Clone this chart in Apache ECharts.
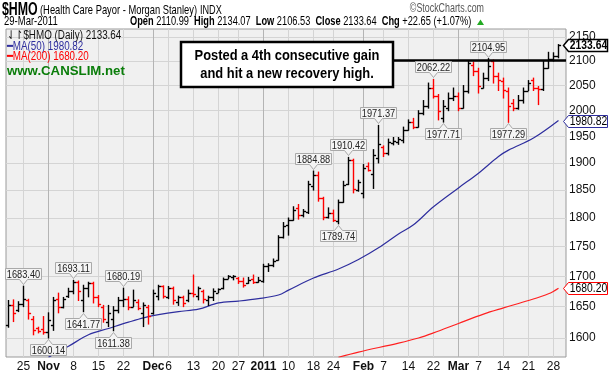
<!DOCTYPE html>
<html>
<head>
<meta charset="utf-8">
<script src="https://cdn.jsdelivr.net/npm/echarts@6/dist/echarts.min.js"></script>
<style>
  html, body { margin: 0; padding: 0; background: #fff; }
  #chart { width: 611px; height: 377px; }
</style>
</head>
<body>
<div id="chart"></div>
<script>
// trading days 20-Oct-2010 .. 29-Mar-2011
const dates = [
  '10/20','10/21','10/22','10/25','10/26','10/27','10/28','10/29',
  '11/1','11/2','11/3','11/4','11/5','11/8','11/9','11/10','11/11','11/12','11/15','11/16','11/17','11/18','11/19','11/22','11/23','11/24','11/26','11/29','11/30',
  '12/1','12/2','12/3','12/6','12/7','12/8','12/9','12/10','12/13','12/14','12/15','12/16','12/17','12/20','12/21','12/22','12/23','12/27','12/28','12/29','12/30','12/31',
  '1/3','1/4','1/5','1/6','1/7','1/10','1/11','1/12','1/13','1/14','1/18','1/19','1/20','1/21','1/24','1/25','1/26','1/27','1/28','1/31',
  '2/1','2/2','2/3','2/4','2/7','2/8','2/9','2/10','2/11','2/14','2/15','2/16','2/17','2/18','2/22','2/23','2/24','2/25','2/28',
  '3/1','3/2','3/3','3/4','3/7','3/8','3/9','3/10','3/11','3/14','3/15','3/16','3/17','3/18','3/21','3/22','3/23','3/24','3/25','3/28','3/29'
];
const opens = [
  1620,1652,1645,1655,1660,1630,1615,1614,
  1610,1620,1663,1650,1667,1675,1690,1660,1680,1688,1665,1650,1625,1630,1645,1660,1662,1650,1658,1640,1650,
  1640,1668,1683,1666,1680,1657,1665,1660,1672,1668,1675,1660,1665,1673,1680,1696,1698,1697,1692,1688,1696,1690,
  1692,1717,1718,1728,1766,1787,1797,1818,1805,1810,1858,1878,1836,1802,1808,1795,1828,1862,1905,1850,
  1845,1895,1880,1910,1930,1918,1938,1940,1943,1962,1977,1968,1995,2010,2045,2030,1985,2005,2025,
  2030,2005,2040,2092,2080,2045,2065,2100,2070,2060,2040,2015,2005,2022,2040,2062,2045,2043,2085,2105,2110.99
];
const highs = [
  1660,1661,1658,1683.40,1662,1634,1617,1634,
  1640,1665,1672,1665,1680,1693.11,1692,1685,1690,1690,1668,1652,1652,1650,1665,1680.19,1666,1677,1661,1656,1652,
  1677,1685,1684,1683,1682,1667,1667,1677,1702,1682,1677,1667,1679,1679,1697,1701,1701,1698,1697,1698,1702,1698,
  1720,1721,1729,1769,1792,1800,1820,1824,1815,1866,1884.88,1883,1837,1818,1814,1832,1866,1910.42,1907,1868,
  1897,1900,1925,1971.37,1932,1945,1948,1948,1968,1982,1985,2000,2020,2055,2062.22,2032,2020,2035,2045,
  2035,2050,2100,2098,2085,2075,2104.95,2102,2075,2065,2045,2022,2030,2045,2060,2065,2048,2100,2118,2117,2134.07
];
const lows = [
  1617,1626,1642,1650,1630,1605,1608,1606,
  1600.14,1612,1640,1648,1665,1671,1660,1641.77,1666,1656,1650,1625,1618,1611.38,1640,1650,1645,1650,1645,1618,1622,
  1638,1661,1664,1663,1654,1652,1650,1658,1666,1661,1656,1652,1660,1673,1679,1696,1694,1688,1682,1688,1688,1690,
  1690,1708,1716,1727,1765,1770,1796,1798,1802,1808,1850,1830,1797,1800,1794,1789.74,1828,1860,1845,1848,
  1836,1885,1853,1900,1912,1915,1934,1935,1938,1962,1965,1968,1992,2005,2025,1982,1977.71,2000,2020,
  2000,2005,2035,2070,2035,2045,2060,2055,2040,2025,1977.29,2000,2003,2015,2040,2040,2012,2040,2085,2100,2106.53
];
const closes = [
  1652,1640,1655,1662,1640,1612,1611,1609,
  1628,1660,1650,1662,1676,1690,1675,1680,1688,1665,1655,1630,1640,1645,1660,1663,1650,1660,1648,1652,1635,
  1672,1683,1668,1680,1660,1665,1656,1672,1670,1680,1663,1665,1676,1678,1695,1700,1700.5,1692,1686,1694,1690,1694,
  1717,1719,1726,1766,1786,1797,1815,1805,1812,1862,1877,1836,1802,1808,1797,1828,1860,1905,1852,1864,
  1890,1887,1915,1935,1918,1940,1942,1945,1962,1977,1968,1995,2010,2045,2030,2000,2010,2025,2030,
  2005,2040,2095,2080,2050,2065,2090,2070,2062,2042,2010,2005,2022,2040,2055,2045,2043,2085,2105,2110.99,2133.64
];

// moving averages
const ma50Dates = ['11/1','11/5','11/11','11/17','11/23','11/29','12/2','12/8','12/14','12/20','12/27','12/31','1/6','1/10','1/18','1/25','1/31','2/4','2/10','2/15','2/22','3/1','3/7','3/11','3/15','3/22','3/29'];
const ma50Values = [1570,1587,1605,1615,1625,1632,1637,1642,1646,1656,1659,1663,1669,1677,1697,1712,1728,1748,1772,1788,1820,1854,1881,1912,1924,1947,1980.82];
const ma200Dates = ['1/25','1/31','2/10','2/16','2/22','3/1','3/8','3/14','3/21','3/25','3/29'];
const ma200Values = [1570,1578,1592,1600,1608,1623,1638,1648,1660,1671,1680.20];

// axis ticks
const tickDates = ['10/25','11/1','11/8','11/15','11/22','12/1','12/6','12/13','12/20','12/27','1/3','1/10','1/18','1/24','2/1','2/7','2/14','2/22','3/1','3/7','3/14','3/21','3/28'];
const tickLabels = ['25','Nov','8','15','22','Dec','6','13','20','27','2011','10','18','24','Feb','7','14','22','Mar','7','14','21','28'];
const monthDates = ['11/1','12/1','1/3','2/1','3/1'];
const priceTicks = [1600,1650,1700,1750,1800,1850,1900,1950,2000,2050,2100,2150];

// price callouts
const noteDates  = ['10/25','11/1','11/8','11/10','11/18','11/22','1/18','1/25','1/27','2/4','2/22','2/24','3/9','3/15'];
const noteValues = [1683.40,1600.14,1693.11,1641.77,1611.38,1680.19,1884.88,1789.74,1910.42,1971.37,2062.22,1977.71,2104.95,1977.29];
const noteSides  = ['high','low','high','low','low','high','high','low','high','high','high','low','high','low'];

const resistance = 2102;
const lastClose = 2133.64, lastMA50 = 1980.82, lastMA200 = 1680.20;

const idx = d => dates.indexOf(d);
const tickIdx = tickDates.map(idx);
const monthIdx = monthDates.map(idx);
const weekIdx = tickIdx.filter(i => monthIdx.indexOf(i) < 0);
const labelOf = {};
tickIdx.forEach((i, k) => { labelOf[i] = tickLabels[k]; });
const boldLabels = ['Nov','Dec','2011','Feb','Mar'];

const FONT = '"Liberation Sans", Arial, sans-serif';
const xMin = -0.5, xMax = dates.length + 0.5;

const chart = echarts.init(document.getElementById('chart'));

function ohlcItem(params, api) {
  const i = api.value(0);
  const o = api.coord([i, api.value(1)]);
  const h = api.coord([i, api.value(2)]);
  const l = api.coord([i, api.value(3)]);
  const c = api.coord([i, api.value(4)]);
  const prev = i > 0 ? closes[i - 1] : -Infinity;
  const color = api.value(4) >= prev ? '#000' : '#ff0000';
  const x = Math.floor(h[0]) + 0.5;
  const st = { stroke: color, lineWidth: 1.4 };
  return {
    type: 'group',
    children: [
      { type: 'line', shape: { x1: x, y1: h[1] - 0.5, x2: x, y2: l[1] + 0.5 }, style: st },
      { type: 'line', shape: { x1: x - 2.6, y1: Math.round(o[1]) + 0.5, x2: x, y2: Math.round(o[1]) + 0.5 }, style: st },
      { type: 'line', shape: { x1: x, y1: Math.round(c[1]) + 0.5, x2: x + 2.6, y2: Math.round(c[1]) + 0.5 }, style: st }
    ]
  };
}

function noteItem(params, api) {
  const p = api.coord([api.value(0), api.value(1)]);
  const up = api.value(2) === 1;
  const x = Math.floor(p[0]) + 0.5;
  const w = 36, hgt = 11, gap = 5;
  const tipY = up ? Math.round(p[1]) - 1.5 : Math.round(p[1]) + 1.5;
  const edgeY = up ? tipY - gap : tipY + gap;
  const farY = up ? edgeY - hgt : edgeY + hgt;
  const pts = [[x - w / 2, farY], [x + w / 2, farY], [x + w / 2, edgeY], [x + 4, edgeY], [x, tipY], [x - 4, edgeY], [x - w / 2, edgeY]];
  return {
    type: 'group',
    children: [
      { type: 'polygon', shape: { points: pts }, style: { fill: '#f4f4f4', stroke: '#a9a9a9', lineWidth: 1 } },
      { type: 'text', x: x, y: (farY + edgeY) / 2 + 0.5, scaleX: 0.84,
        style: { text: api.value(1).toFixed(2), fill: '#222', font: '11px ' + FONT, align: 'center', verticalAlign: 'middle' } }
    ]
  };
}

const flagColors = ['#000', '#2e2e9e', '#ff0000'];
function flagItem(params, api) {
  const p = api.coord([xMax, api.value(1)]);
  const k = api.value(2);
  const y = Math.round(p[1]) + 0.5;
  const x0 = Math.round(p[0]) - 2.5;
  const pts = [[x0, y], [x0 + 5, y - 6], [x0 + 44, y - 6], [x0 + 44, y + 6], [x0 + 5, y + 6]];
  return {
    type: 'group',
    children: [
      { type: 'polygon', shape: { points: pts }, style: { fill: '#fff', stroke: flagColors[k], lineWidth: k === 0 ? 1.5 : 1 } },
      { type: 'text', x: x0 + 25, y: y + 0.5, scaleX: 0.86,
        style: { text: api.value(1).toFixed(2), fill: '#000', align: 'center', verticalAlign: 'middle',
          font: (k === 0 ? 'bold 12px ' : '12px ') + FONT } }
    ]
  };
}

// header / legend texts drawn a bit narrow like the original
function label(x, y, text, font, fill, sx, align) {
  return { type: 'text', x: x, y: y, scaleX: sx || 0.8, z: 50,
    style: { text: text, font: font, fill: fill || '#000', align: align || 'left', verticalAlign: 'middle' } };
}

const option = {
  animation: false,
  backgroundColor: '#fff',
  grid: { left: 6, right: 45, top: 29, bottom: 20, show: true, backgroundColor: '#f0f0f0', borderColor: '#9a9a9a', borderWidth: 1 },
  xAxis: [
    {
      type: 'value', min: xMin, max: xMax,
      axisLine: { show: false },
      axisTick: { show: false, customValues: weekIdx },
      splitLine: { show: true, lineStyle: { color: '#d4d4d4', width: 1 } },
      axisLabel: {
        customValues: tickIdx, margin: 4, color: '#111', fontSize: 12, fontFamily: FONT,
        formatter: v => {
          const t = labelOf[Math.round(v)] || '';
          return boldLabels.indexOf(t) >= 0 ? '{b|' + t + '}' : t;
        },
        rich: { b: { fontWeight: 'bold', fontSize: 12, fontFamily: FONT, color: '#111' } }
      }
    },
    {
      type: 'value', min: xMin, max: xMax, position: 'bottom',
      axisLine: { show: false }, axisLabel: { show: false },
      axisTick: { show: false, customValues: monthIdx },
      splitLine: { show: true, lineStyle: { color: '#b4b4b4', width: 1 } }
    }
  ],
  yAxis: {
    type: 'log', position: 'right', min: 1570.4, max: 2167,
    axisLine: { show: false },
    axisTick: { show: false, customValues: priceTicks },
    splitLine: { show: true, lineStyle: { color: '#d4d4d4', width: 1 } },
    axisLabel: { customValues: priceTicks, margin: 3, color: '#111', fontSize: 12, fontFamily: FONT,
      formatter: v => String(Math.round(v)) }
  },
  series: [
    {
      name: 'MA50', type: 'line', showSymbol: false, z: 3, smooth: 0.35,
      data: ma50Dates.map((d, k) => [idx(d), ma50Values[k]]),
      lineStyle: { color: '#2e2e9e', width: 1.2 }
    },
    {
      name: 'MA200', type: 'line', showSymbol: false, z: 3, smooth: 0.35,
      data: ma200Dates.map((d, k) => [idx(d), ma200Values[k]]),
      lineStyle: { color: '#ff2020', width: 1.2 }
    },
    {
      name: '$HMO', type: 'custom', z: 4,
      renderItem: ohlcItem,
      encode: { x: 0, y: [1, 2, 3, 4] },
      data: dates.map((d, i) => [i, opens[i], highs[i], lows[i], closes[i]]),
      markLine: {
        silent: true, symbol: 'none', label: { show: false },
        lineStyle: { color: '#000', width: 2.5, type: 'solid' },
        data: [[{ coord: [75, resistance] }, { coord: [xMax, resistance] }]]
      }
    },
    {
      name: 'notes', type: 'custom', z: 6,
      renderItem: noteItem,
      encode: { x: 0, y: 1 },
      data: noteDates.map((d, k) => [idx(d), noteValues[k], noteSides[k] === 'high' ? 1 : -1])
    },
    {
      name: 'flags', type: 'custom', z: 7, clip: false,
      renderItem: flagItem,
      encode: { x: 0, y: 1 },
      data: [[xMax, lastClose, 0], [xMax, lastMA50, 1], [xMax, lastMA200, 2]]
    }
  ],
  graphic: [
    label(2, 10, '$HMO', 'bold 19px ' + FONT, '#000', 0.65),
    label(40, 10.5, '(Health Care Payor - Morgan Stanley)', '13px ' + FONT, '#000', 0.72),
    label(200, 10.5, 'INDX', '12px ' + FONT, '#000', 0.76),
    label(484, 9, '©StockCharts.com', '12px ' + FONT, '#555', 0.74, 'right'),
    label(4, 21.5, '29-Mar-2011', '12.5px ' + FONT, '#000', 0.76),
    {
      type: 'text', x: 130, y: 21.5, scaleX: 0.74, z: 50,
      style: { text: '{b|Open} 2110.99  {b|High} 2134.07  {b|Low} 2106.53  {b|Close} 2133.64  {b|Chg} +22.65 (+1.07%)',
        font: '12.5px ' + FONT, fill: '#000', verticalAlign: 'middle',
        rich: { b: { font: 'bold 12.5px ' + FONT, fill: '#000' } } }
    },
    { type: 'polygon', z: 50, shape: { points: [[477, 25], [484, 25], [480.5, 19.5]] }, style: { fill: '#22aa22' } },
    label(7, 36, '⇃↾$HMO (Daily) 2133.64', '12px ' + FONT, '#111', 0.82),
    label(7, 46.5, '━MA(50) 1980.82', '12px ' + FONT, '#2e2e9e', 0.82),
    label(7, 57, '━MA(200) 1680.20', '12px ' + FONT, '#ff0000', 0.82),
    label(7, 71, 'www.CANSLIM.net', 'bold 13.5px ' + FONT, '#0a7d0a', 0.98),
    { type: 'rect', z: 60, shape: { x: 181, y: 42, width: 212, height: 45 },
      style: { fill: '#fff', stroke: '#000', lineWidth: 2.5 } },
    { type: 'text', z: 61, x: 287, y: 56, scaleX: 0.86,
      style: { text: 'Posted a 4th consecutive gain', font: 'bold 15px ' + FONT, fill: '#000', align: 'center', verticalAlign: 'middle' } },
    { type: 'text', z: 61, x: 287, y: 74, scaleX: 0.86,
      style: { text: 'and hit a new recovery high.', font: 'bold 15px ' + FONT, fill: '#000', align: 'center', verticalAlign: 'middle' } }
  ]
};

chart.setOption(option);
</script>
</body>
</html>
